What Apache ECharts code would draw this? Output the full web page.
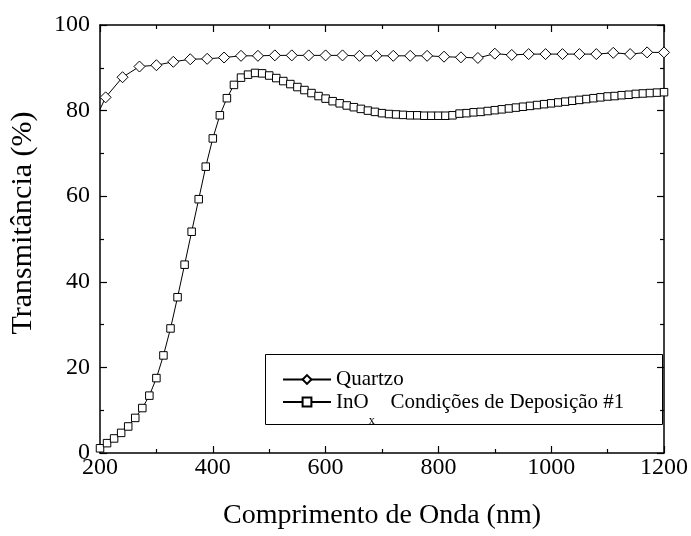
<!DOCTYPE html>
<html>
<head>
<meta charset="utf-8">
<script src="https://cdn.jsdelivr.net/npm/echarts@6/dist/echarts.min.js"></script>
<style>
  html, body { margin: 0; padding: 0; background: #fff; }
  #chart { width: 691px; height: 536px; }
</style>
</head>
<body>
<div id="chart"></div>
<script>
// Transmittance spectra (%), wavelength in nm
const quartzWavelength = [200, 210, 240, 270, 300, 330, 360, 390, 420, 450, 480, 510, 540, 570, 600, 630,
  660, 690, 720, 750, 780, 810, 840, 870, 900, 930, 960, 990, 1020, 1050, 1080, 1110, 1140, 1170, 1200];
const quartzT = [80.3, 83.1, 87.8, 90.3, 90.6, 91.4, 92.0, 92.1, 92.4, 92.8, 92.8, 92.9, 92.9, 92.9, 92.9, 92.9,
  92.8, 92.8, 92.8, 92.8, 92.8, 92.6, 92.45, 92.3, 93.3, 93.0, 93.2, 93.2, 93.2, 93.2, 93.2, 93.5, 93.2, 93.6, 93.6];
// wavelengths of the quartz curve drawn without a marker
const quartzUnmarked = [200];

const inoxWavelength = [200, 212.5, 225, 237.5, 250, 262.5, 275, 287.5, 300, 312.5,
  325, 337.5, 350, 362.5, 375, 387.5, 400, 412.5, 425, 437.5,
  450, 462.5, 475, 487.5, 500, 512.5, 525, 537.5, 550, 562.5,
  575, 587.5, 600, 612.5, 625, 637.5, 650, 662.5, 675, 687.5,
  700, 712.5, 725, 737.5, 750, 762.5, 775, 787.5, 800, 812.5,
  825, 837.5, 850, 862.5, 875, 887.5, 900, 912.5, 925, 937.5,
  950, 962.5, 975, 987.5, 1000, 1012.5, 1025, 1037.5, 1050, 1062.5,
  1075, 1087.5, 1100, 1112.5, 1125, 1137.5, 1150, 1162.5, 1175, 1187.5, 1200];
const inoxT = [1.1, 2.3, 3.4, 4.7, 6.2, 8.2, 10.5, 13.4, 17.5, 22.8,
  29.1, 36.4, 44.0, 51.7, 59.3, 66.9, 73.5, 78.9, 82.9, 86.0,
  87.7, 88.4, 88.8, 88.7, 88.2, 87.6, 86.9, 86.2, 85.5, 84.8,
  84.1, 83.4, 82.8, 82.2, 81.7, 81.2, 80.8, 80.4, 80.0, 79.7,
  79.4, 79.2, 79.1, 79.0, 78.9, 78.9, 78.8, 78.8, 78.8, 78.8,
  78.9, 79.3, 79.4, 79.6, 79.7, 79.9, 80.1, 80.3, 80.5, 80.7,
  80.9, 81.1, 81.3, 81.5, 81.7, 81.9, 82.1, 82.3, 82.5, 82.7,
  82.9, 83.1, 83.3, 83.4, 83.6, 83.7, 83.9, 84.0, 84.1, 84.2, 84.3];

const xTicks = { min: 200, max: 1200, interval: 200 };
const yTicks = { min: 0, max: 100, interval: 20 };

const seriesNames = ['Quartzo', 'InOx Condições de Deposição #1'];

const FONT = "'Liberation Serif', 'Times New Roman', serif";

const quartzData = quartzWavelength.map((x, i) => ({
  value: [x, quartzT[i]],
  symbol: quartzUnmarked.includes(x) ? 'none' : 'diamond'
}));
const inoxData = inoxWavelength.map((x, i) => [x, inoxT[i]]);

function frameAxis(position, ticks, showLabel) {
  return {
    type: 'value',
    position: position,
    min: ticks.min, max: ticks.max, interval: ticks.interval,
    axisLine: { show: true, onZero: false, lineStyle: { color: '#000', width: 1.5 } },
    axisTick: { show: true, inside: true, length: 7, lineStyle: { color: '#000', width: 1.2 } },
    minorTick: { show: true, splitNumber: 2, length: 4, lineStyle: { color: '#000', width: 1.2 } },
    splitLine: { show: false },
    minorSplitLine: { show: false },
    axisLabel: {
      show: showLabel, color: '#000', fontFamily: FONT, fontSize: 24,
      formatter: function (v) { return String(v); }
    }
  };
}

const xBottom = Object.assign(frameAxis('bottom', xTicks, true), {
  name: 'Comprimento de Onda (nm)',
  nameLocation: 'middle',
  nameGap: 49,
  nameTextStyle: { color: '#000', fontFamily: FONT, fontSize: 28 }
});
xBottom.axisLabel.margin = 3;
const xTop = frameAxis('top', xTicks, false);

const yLeft = Object.assign(frameAxis('left', yTicks, true), {
  name: 'Transmitância (%)',
  nameLocation: 'middle',
  nameGap: 62,
  nameTextStyle: { color: '#000', fontFamily: FONT, fontSize: 30, padding: [0, 0, 0, 32] }
});
yLeft.axisLabel.margin = 10;
const yRight = frameAxis('right', yTicks, false);

const chart = echarts.init(document.getElementById('chart'), null, { renderer: 'canvas' });
chart.setOption({
  backgroundColor: '#fff',
  animation: false,
  grid: { left: 100, right: 26, top: 25, bottom: 83, containLabel: false },
  xAxis: [xBottom, xTop],
  yAxis: [yLeft, yRight],
  legend: {
    orient: 'vertical',
    left: 282,
    top: 369,
    padding: 0,
    itemWidth: 48,
    itemHeight: 11,
    itemGap: -12.5,
    selectedMode: false,
    data: seriesNames,
    formatter: function (name) {
      if (name === seriesNames[1]) {
        return '{n|InO}{s|x}{n|   Condições de Deposição #1}';
      }
      return '{n|' + name + '}';
    },
    textStyle: {
      color: '#000',
      fontFamily: FONT,
      fontSize: 21,
      rich: {
        n: { color: '#000', fontFamily: FONT, fontSize: 21, lineHeight: 22 },
        s: { color: '#000', fontFamily: FONT, fontSize: 12, lineHeight: 12, padding: [37, 0, 0, 0] }
      }
    }
  },
  graphic: [{
    type: 'rect',
    left: 263,
    top: 352,
    shape: { width: 397, height: 70 },
    style: { fill: 'none', stroke: '#000', lineWidth: 1 },
    silent: true
  }],
  series: [
    {
      name: seriesNames[0],
      type: 'line',
      xAxisIndex: 0, yAxisIndex: 0,
      data: quartzData,
      symbol: 'diamond',
      symbolSize: 11,
      showAllSymbol: true,
      lineStyle: { color: '#000', width: 1 },
      itemStyle: { color: '#fff', borderColor: '#000', borderWidth: 1 },
      emphasis: { disabled: true },
      z: 3
    },
    {
      name: seriesNames[1],
      type: 'line',
      xAxisIndex: 0, yAxisIndex: 0,
      data: inoxData,
      symbol: 'rect',
      symbolSize: 7.5,
      showAllSymbol: true,
      lineStyle: { color: '#000', width: 1 },
      itemStyle: { color: '#fff', borderColor: '#000', borderWidth: 1 },
      emphasis: { disabled: true },
      z: 2
    }
  ]
});
</script>
</body>
</html>
